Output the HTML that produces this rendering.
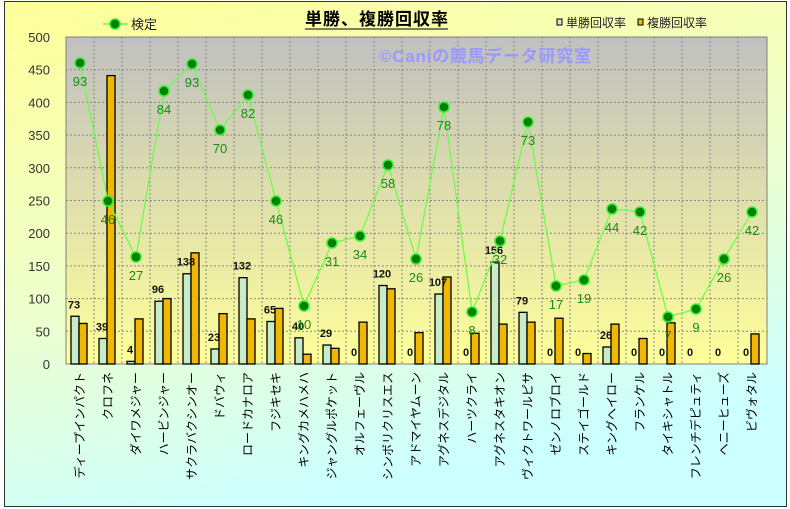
<!DOCTYPE html>
<html><head><meta charset="utf-8">
<style>
html,body{margin:0;padding:0;background:#fff;}
svg{display:block;font-family:"Liberation Sans","Noto Sans CJK JP",sans-serif;}
</style></head>
<body>
<svg id="c" width="790" height="509" xmlns="http://www.w3.org/2000/svg">
<defs>
<linearGradient id="bg" x1="0" y1="0" x2="0.35" y2="1">
<stop offset="0" stop-color="#ffff99"/><stop offset="0.55" stop-color="#eeffcc"/><stop offset="1" stop-color="#ccffff"/>
</linearGradient>
<linearGradient id="pa" x1="0" y1="0" x2="0" y2="1">
<stop offset="0" stop-color="#c0c0c0"/><stop offset="1" stop-color="#ffff99"/>
</linearGradient>
</defs>
<rect x="4.5" y="1.5" width="782" height="505" fill="url(#bg)" stroke="#333" stroke-width="1"/>
<rect x="66" y="37" width="701" height="327" fill="url(#pa)" stroke="#808080" stroke-width="1"/>
<g id="grid"></g>
<text x="305" y="25" font-size="17" font-weight="bold" fill="#000" textLength="143">単勝、複勝回収率</text>
<line x1="305" y1="29" x2="448" y2="29" stroke="#000" stroke-width="1"/>
<text x="379" y="62" font-size="17" font-weight="bold" fill="#9999ff" textLength="212">©Caniの競馬データ研究室</text>
<line x1="103" y1="24" x2="128" y2="24" stroke="#66ff44" stroke-width="1.5"/>
<circle cx="115" cy="24" r="5" fill="#008000" stroke="#33ee33" stroke-width="1.5"/>
<text x="131" y="29" font-size="13" fill="#222">検定</text>
<rect x="557" y="19" width="5" height="6" fill="#cce8cc" stroke="#000"/>
<text x="566" y="27" font-size="12" fill="#222">単勝回収率</text>
<rect x="638" y="19" width="5" height="6" fill="#f0b800" stroke="#000"/>
<text x="647" y="27" font-size="12" fill="#222">複勝回収率</text>
<g id="d"></g>
</svg>
<script>
var names=["ディープインパクト","クロフネ","ダイワメジャー","ハービンジャー","サクラバクシンオー","ドバウィ","ロードカナロア","フジキセキ","キングカメハメハ","ジャングルポケット","オルフェーヴル","シンボリクリスエス","アドマイヤムーン","アグネスデジタル","ハーツクライ","アグネスタキオン","ヴィクトワールピサ","ゼンノロブロイ","ステイゴールド","キングヘイロー","フランケル","タイキシャトル","フレンチデピュティ","ヘニーヒューズ","ビヴォタル"];
var win=[73,39,4,96,138,23,132,65,40,29,0,120,0,107,0,156,79,0,0,26,0,0,0,0,0];
var plc=[62,441,69,100,170,77,69,85,15,24,64,115,48,133,47,61,64,70,16,61,39,63,0,0,46];
var dy=[63,201,257,91,64,130,95,201,306,243,236,165,259,107,312,241,122,286,280,209,212,317,309,259,212];
var lab=[93,46,27,84,93,70,82,46,10,31,34,58,26,78,8,32,73,17,19,44,42,7,9,26,42];
var NS="http://www.w3.org/2000/svg";
function el(t,a,txt,p){var e=document.createElementNS(NS,t);for(var k in a)e.setAttribute(k,a[k]);if(txt!=null)e.textContent=txt;(p||document.getElementById('d')).appendChild(e);return e;}
var g=document.getElementById('grid');
var x0=66,y0=364,s=327/500,w=28;
for(var v=0;v<=500;v+=50){var y=y0-v*s;
 if(v>0&&v<500)el('line',{x1:x0,y1:y,x2:767,y2:y,stroke:'#888','stroke-dasharray':'2,2','stroke-width':1},null,g);
 el('text',{x:50,y:y+5,'font-size':13,fill:'#333','text-anchor':'end'},v,g);}
for(var i=1;i<25;i++){var x=x0+i*w;el('line',{x1:x,y1:37,x2:x,y2:364,stroke:'#888','stroke-dasharray':'2,2','stroke-width':1},null,g);}
for(var i=0;i<25;i++){var c=x0+i*w+14;
 if(win[i]>0)el('rect',{x:c-9,y:y0-win[i]*s,width:8,height:win[i]*s,fill:'#c8ecc8',stroke:'#000','stroke-width':1.3});
 if(plc[i]>0)el('rect',{x:c-1,y:y0-plc[i]*s,width:8,height:plc[i]*s,fill:'#f0b800',stroke:'#000','stroke-width':1.3});
 el('text',{x:c-6,y:y0-win[i]*s-8,'font-size':11,'font-weight':'bold',fill:'#111','text-anchor':'middle'},win[i]);
 el('text',{transform:'translate('+(c+4)+',372) rotate(-90)','font-size':12,fill:'#000','text-anchor':'end'},names[i]);
}
var pts=[];for(var i=0;i<25;i++)pts.push((x0+i*w+14)+','+dy[i]);
el('polyline',{points:pts.join(' '),fill:'none',stroke:'#66ff44','stroke-width':1.2});
for(var i=0;i<25;i++){var c=x0+i*w+14;
 el('circle',{cx:c,cy:dy[i],r:5,fill:'#008000',stroke:'#33ee33','stroke-width':1.5});
 el('text',{x:c,y:dy[i]+23,'font-size':13,fill:'#1a8a1a','text-anchor':'middle'},lab[i]);}
</script>
</body></html>
